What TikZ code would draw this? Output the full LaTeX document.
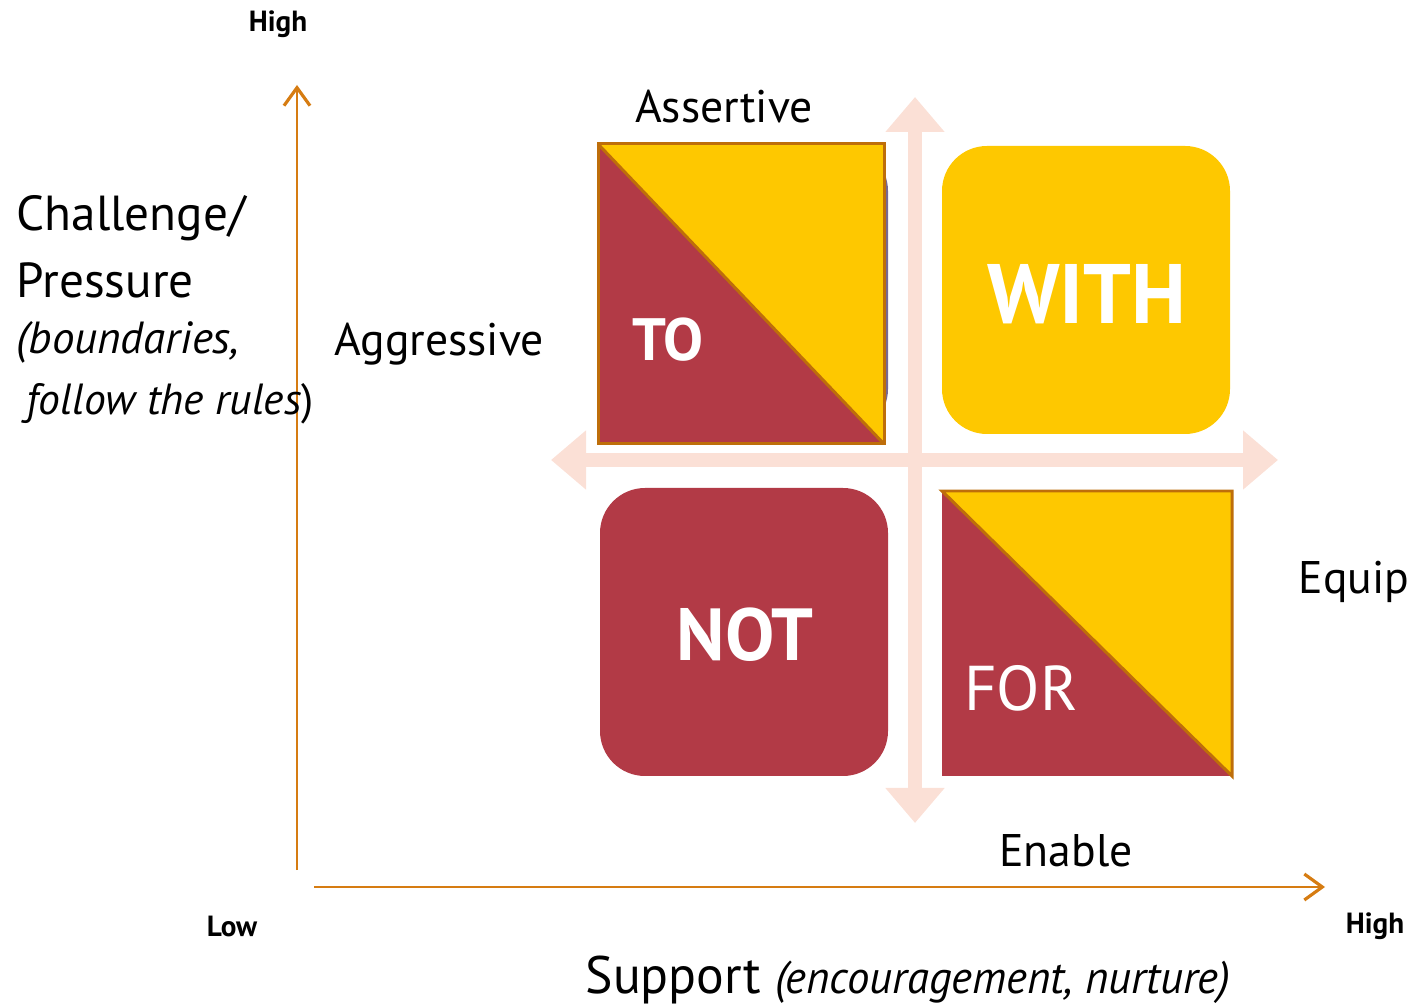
\documentclass[tikz,border=0pt]{standalone}
\usepackage{fontspec}
\usepackage{graphicx}
\setmainfont{PT Sans}
\usetikzlibrary{arrows.meta}
\definecolor{axis}{RGB}{214,124,18}
\definecolor{crossbar}{RGB}{251,224,214}
\definecolor{quadred}{RGB}{178,58,70}
\definecolor{quadyellow}{RGB}{254,200,0}
\definecolor{edge}{RGB}{190,110,10}
\definecolor{shadow}{RGB}{118,104,148}

\begin{document}
\begin{tikzpicture}[x=0.1mm, y=-0.1mm,
    word/.style={inner sep=0pt, font=\fontsize{13}{15}\selectfont},
    level/.style={inner sep=0pt, font=\bfseries\fontsize{8.3}{10}\selectfont},
    box/.style={inner sep=0pt, outer sep=0pt, minimum width=28.8mm, minimum height=28.8mm, rounded corners=4.5mm},
    square/.style={inner sep=0pt, outer sep=0pt, minimum width=28.6mm, minimum height=30mm},
    quad/.style={inner sep=0pt, text=white}]

    \useasboundingbox (0,0) rectangle (1414,1005);

    % axes
    \coordinate (y-low) at (297,870);
    \coordinate (y-high) at (297,85);
    \coordinate (x-low) at (314,887);
    \coordinate (x-high) at (1325,887);
    \draw[axis, line width=0.8pt, -{Straight Barb[length=1.8mm,width=2.6mm,line width=0.9pt]}] (y-low) -- (y-high);
    \draw[axis, line width=0.8pt, -{Straight Barb[length=1.8mm,width=2.6mm,line width=0.9pt]}] (x-low) -- (x-high);

    % cross
    \coordinate (n) at (915,97);
    \coordinate (s) at (915,823);
    \coordinate (w) at (551,460);
    \coordinate (e) at (1278,460);
    \draw[crossbar, line width=4pt, {Triangle[length=3.5mm,width=5.7mm]}-{Triangle[length=3.5mm,width=5.7mm]}] (s) -- (n);
    \draw[crossbar, line width=4pt, {Triangle[length=3.5mm,width=5.7mm]}-{Triangle[length=3.5mm,width=5.7mm]}] (w) -- (e);

    % TO
    \node[box, fill=shadow] (to-back) at (744,290) {};
    \node[square] (to) at (741,294) {};
    \fill[quadyellow] (to.north west) -- (to.north east) -- (to.south east) -- cycle;
    \fill[quadred] (to.north west) -- (to.south west) -- (to.south east) -- cycle;
    \draw[edge, line width=0.85pt] (to.north west) rectangle (to.south east);
    \draw[edge, line width=0.85pt] (to.north west) -- (to.south east);
    \node[quad, font=\bfseries\fontsize{17}{20}\selectfont] (to-text) at (668,340) {TO};

    % WITH
    \node[box, fill=quadyellow] (with) at (1086,290) {};
    \node[quad, font=\bfseries\fontsize{24}{28}\selectfont] (with-text) at (1087,294) {WITH};

    % NOT
    \node[box, fill=quadred] (not) at (744,632) {};
    \node[quad, font=\bfseries\fontsize{21}{25}\selectfont] (not-text) at (745,635) {NOT};

    % FOR
    \node[square, minimum width=29mm, minimum height=28.5mm] (for) at (1087,633.5) {};
    \fill[quadred] (for.north west) -- (for.south west) -- (for.south east) -- cycle;
    \draw[edge, line width=0.85pt, fill=quadyellow] (for.north west) -- (for.north east) -- (for.south east) -- cycle;
    \node[quad, font=\fontsize{18}{22}\selectfont] (for-text) at (1021,688) {FOR};

    % labels
    \node[word] (assertive) at (724,107) {Assertive};
    \node[word] (aggressive) at (439,344) {Aggressive};
    \node[word] (equip) at (1354,582) {Equip};
    \node[word] (enable) at (1066,851) {Enable};
    \node[level] (high-y) at (278,24) {High};
    \node[level] (low) at (232,926) {Low};
    \node[level] (high-x) at (1375,926) {High};

    \node[word, anchor=west, font=\fontsize{14}{18}\selectfont] (challenge) at (16,218) {Challenge/};
    \node[word, anchor=west, font=\fontsize{14}{18}\selectfont] (pressure) at (16,280) {Pressure};
    \node[word, anchor=west, font=\itshape\fontsize{12.8}{16}\selectfont] (boundaries) at (16,342) {(boundaries,};
    \node[word, anchor=west, font=\fontsize{12.4}{16}\selectfont] (rules) at (26,404) {\textit{follow the rules})};
    \node[word] (support) at (908,980) {\scalebox{0.98}[1]{\fontsize{15}{18}\selectfont Support \fontsize{13}{16}\selectfont\itshape (encouragement, nurture)}};

\end{tikzpicture}
\end{document}
